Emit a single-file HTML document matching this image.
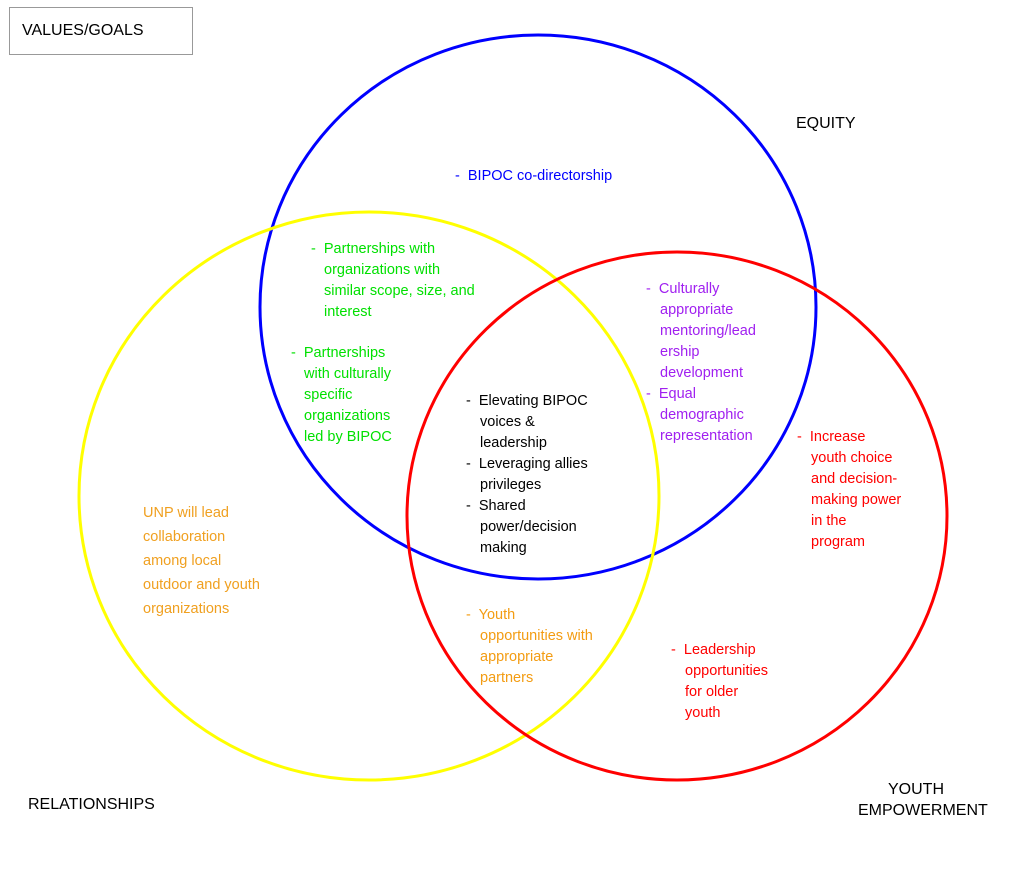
<!DOCTYPE html>
<html><head><meta charset="utf-8"><style>
body{margin:0;width:1024px;height:877px;background:#fff;position:relative;overflow:hidden;font-family:"Liberation Sans",sans-serif;font-size:14.5px;}
.t{position:absolute;line-height:21px;white-space:nowrap;}
.b{position:absolute;}
</style></head><body>
<svg width="1024" height="877" style="position:absolute;left:0;top:0">
<ellipse cx="538" cy="307" rx="278" ry="272" fill="none" stroke="#0000ff" stroke-width="3"/>
<ellipse cx="369" cy="496" rx="290" ry="284" fill="none" stroke="#ffff00" stroke-width="3"/>
<ellipse cx="677" cy="516" rx="270" ry="264" fill="none" stroke="#ff0000" stroke-width="3"/>
<rect x="9.5" y="7.5" width="183" height="47" fill="none" stroke="#999" stroke-width="1"/>
</svg>
<div class="t" style="left:22px;top:20px;font-size:16px;">VALUES/GOALS</div>
<div class="t" style="left:796px;top:113px;font-size:16px;">EQUITY</div>
<div class="t" style="left:28px;top:794px;font-size:16px;">RELATIONSHIPS</div>
<div class="t" style="left:888px;top:779px;font-size:16px;">YOUTH</div>
<div class="t" style="left:858px;top:800px;font-size:16px;">EMPOWERMENT</div>

<div class="t" style="left:455px;top:166px;color:#0000ff">-&nbsp; BIPOC co-directorship</div>

<div class="t" style="left:311px;top:239px;color:#00e000">-&nbsp; Partnerships with</div>
<div class="t" style="left:324px;top:260px;color:#00e000">organizations with<br>similar scope, size, and<br>interest</div>
<div class="t" style="left:291px;top:343px;color:#00e000">-&nbsp; Partnerships</div>
<div class="t" style="left:304px;top:364px;color:#00e000">with culturally<br>specific<br>organizations<br>led by BIPOC</div>

<div class="t" style="left:646px;top:279px;color:#a020f0">-&nbsp; Culturally</div>
<div class="t" style="left:660px;top:300px;color:#a020f0">appropriate<br>mentoring/lead<br>ership<br>development</div>
<div class="t" style="left:646px;top:384px;color:#a020f0">-&nbsp; Equal</div>
<div class="t" style="left:660px;top:405px;color:#a020f0">demographic<br>representation</div>

<div class="t" style="left:466px;top:391px;color:#000">-&nbsp; Elevating BIPOC</div>
<div class="t" style="left:480px;top:412px;color:#000">voices &amp;<br>leadership</div>
<div class="t" style="left:466px;top:454px;color:#000">-&nbsp; Leveraging allies</div>
<div class="t" style="left:480px;top:475px;color:#000">privileges</div>
<div class="t" style="left:466px;top:496px;color:#000">-&nbsp; Shared</div>
<div class="t" style="left:480px;top:517px;color:#000">power/decision<br>making</div>

<div class="t" style="left:797px;top:427px;color:#ff0000">-&nbsp; Increase</div>
<div class="t" style="left:811px;top:448px;color:#ff0000">youth choice<br>and decision-<br>making power<br>in the<br>program</div>

<div class="t" style="left:143px;top:501px;color:#f0a020;line-height:24px">UNP will lead<br>collaboration<br>among local<br>outdoor and youth<br>organizations</div>

<div class="t" style="left:466px;top:605px;color:#f39c12">-&nbsp; Youth</div>
<div class="t" style="left:480px;top:626px;color:#f39c12">opportunities with<br>appropriate<br>partners</div>

<div class="t" style="left:671px;top:640px;color:#ff0000">-&nbsp; Leadership</div>
<div class="t" style="left:685px;top:661px;color:#ff0000">opportunities<br>for older<br>youth</div>
</body></html>
